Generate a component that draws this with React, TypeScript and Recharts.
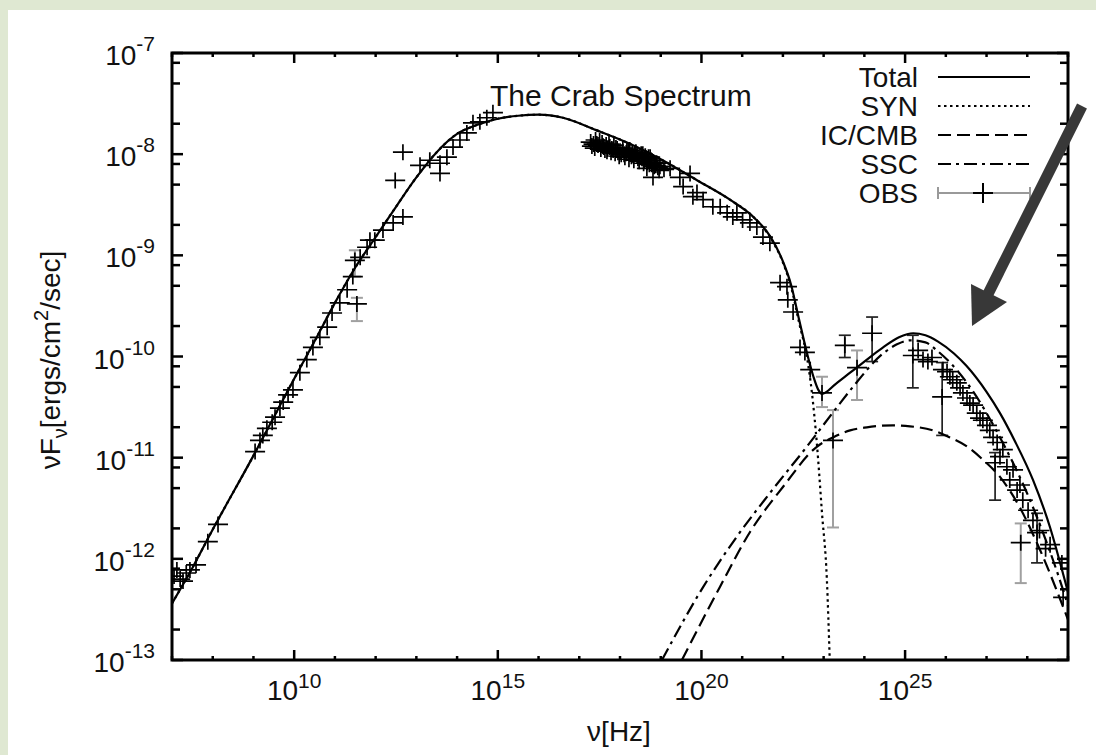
import React from 'react';
import { ComposedChart, Line, Scatter, XAxis, YAxis, ErrorBar, ReferenceArea } from 'recharts';

// all values are log10: x = log10(nu [Hz]), y = log10(nuF_nu [ergs/cm^2/sec])

// model curves
const totalNu = [7.0, 7.5, 8.0, 9.0, 9.5, 10.0, 10.5, 11.0, 11.5, 12.0, 12.5, 13.0, 13.5, 14.0, 14.5, 15.0, 15.5, 16.0, 16.6, 17.4, 18.2, 19.0, 19.9, 20.7, 21.3, 21.7, 22.0, 22.2, 22.4, 22.6, 22.75, 22.87, 22.96, 23.3, 23.65, 24.0, 24.46, 24.85, 25.2, 25.5, 25.8, 26.2, 26.5, 27.0, 27.33, 27.7, 28.14, 28.56, 28.92, 29.0];
const totalFlux = [-12.44, -12.09, -11.71, -10.98, -10.6, -10.22, -9.85, -9.47, -9.12, -8.82, -8.52, -8.23, -7.98, -7.8, -7.71, -7.65, -7.62, -7.61, -7.64, -7.76, -7.89, -8.05, -8.26, -8.45, -8.63, -8.82, -9.06, -9.29, -9.64, -9.98, -10.2, -10.33, -10.37, -10.27, -10.16, -10.05, -9.91, -9.81, -9.77, -9.79, -9.85, -9.97, -10.09, -10.35, -10.56, -10.84, -11.22, -11.69, -12.21, -12.33];

const synNu = [7.0, 7.5, 8.0, 9.0, 9.5, 10.0, 10.5, 11.0, 11.5, 12.0, 12.5, 13.0, 13.5, 14.0, 14.5, 15.0, 15.5, 16.0, 16.6, 17.4, 18.2, 19.0, 19.9, 20.7, 21.3, 21.7, 22.0, 22.2, 22.4, 22.6, 22.71, 22.84, 22.96, 23.08, 23.15];
const synFlux = [-12.44, -12.09, -11.71, -10.98, -10.6, -10.22, -9.85, -9.47, -9.12, -8.82, -8.52, -8.23, -7.98, -7.8, -7.71, -7.65, -7.62, -7.61, -7.64, -7.76, -7.89, -8.05, -8.26, -8.45, -8.63, -8.83, -9.07, -9.31, -9.67, -10.03, -10.35, -10.89, -11.55, -12.21, -13.0];

const icNu = [19.52, 20.45, 21.2, 22.0, 22.84, 23.23, 23.65, 24.06, 24.7, 25.12, 25.68, 26.1, 26.52, 26.91, 27.33, 27.8, 28.3, 29.0];
const icFlux = [-13.0, -12.28, -11.73, -11.29, -10.89, -10.8, -10.73, -10.7, -10.68, -10.69, -10.73, -10.8, -10.89, -11.02, -11.19, -11.48, -11.9, -12.6];

const sscNu = [19.03, 20.04, 20.87, 21.68, 22.59, 23.33, 23.72, 24.46, 24.8, 25.12, 25.5, 25.78, 26.52, 27.33, 28.14, 28.8, 29.0];
const sscFlux = [-13.0, -12.28, -11.78, -11.35, -10.89, -10.5, -10.3, -9.97, -9.88, -9.84, -9.86, -9.94, -10.26, -10.8, -11.49, -12.21, -12.46];

// observations
const radioNu = [7.05, 7.12, 7.2, 7.27, 7.35, 7.44, 7.59, 7.88, 8.13, 9.04, 9.16, 9.23, 9.33, 9.46, 9.53, 9.65, 9.73, 9.85, 9.97, 10.14, 10.31, 10.46, 10.63, 10.81, 10.93, 11.12, 11.3, 11.44, 11.62, 11.79, 11.86, 11.98, 12.18, 12.43, 12.67, 12.48, 12.67];
const radioFlux = [-12.17, -12.11, -12.2, -12.22, -12.14, -12.11, -12.06, -11.83, -11.66, -10.94, -10.83, -10.78, -10.71, -10.65, -10.6, -10.51, -10.45, -10.38, -10.33, -10.16, -10.03, -9.91, -9.81, -9.71, -9.57, -9.47, -9.34, -9.21, -9.02, -8.92, -8.85, -8.85, -8.75, -8.68, -8.62, -8.26, -7.98];

const irNu = [13.09, 13.33, 13.58, 13.58, 13.75, 13.9, 14.07, 14.24, 14.39, 14.56, 14.73, 14.88];
const irFlux = [-8.11, -8.06, -8.09, -8.19, -8.03, -7.93, -7.86, -7.79, -7.69, -7.68, -7.64, -7.59];

const optNu = [17.28, 17.35, 17.4, 17.46, 17.5, 17.56, 17.6, 17.66, 17.7, 17.75, 17.8, 17.85, 17.9, 17.95, 18.0, 18.07, 18.1, 18.15, 18.2, 18.24, 18.28, 18.32, 18.36, 18.39, 18.44, 18.49, 18.52, 18.56, 18.6, 18.64, 18.7, 18.74, 18.78, 18.81, 18.88, 18.93, 18.98, 19.08];
const optFlux = [-7.88, -7.9, -7.86, -7.91, -7.87, -7.89, -7.93, -7.91, -7.95, -7.93, -7.95, -7.91, -7.94, -7.98, -7.97, -7.94, -8.0, -7.99, -7.97, -7.96, -8.02, -8.01, -7.99, -7.98, -8.04, -8.02, -8.0, -8.0, -8.06, -8.04, -8.03, -8.03, -8.1, -8.08, -8.11, -8.13, -8.12, -8.15];
// second, denser layer of the optical band
const opt2Nu = [17.31, 17.38, 17.43, 17.53, 17.58, 17.63, 17.68, 17.73, 17.78, 17.83, 17.88, 17.93, 17.98, 18.03, 18.12, 18.17, 18.22, 18.3, 18.34, 18.42, 18.47, 18.54, 18.58, 18.62, 18.67, 18.72, 18.76, 18.84, 18.9, 18.96];
const opt2Flux = [-7.92, -7.94, -7.9, -7.95, -7.92, -7.96, -7.97, -7.9, -7.98, -7.96, -7.99, -7.95, -8.02, -8.0, -8.03, -7.96, -8.05, -7.99, -8.06, -8.01, -8.07, -8.04, -8.09, -8.02, -8.08, -8.1, -8.06, -8.12, -8.09, -8.16];

const xrayNu = [18.66, 18.81, 19.23, 19.47, 19.72, 19.55, 19.89, 19.79, 20.04, 20.28, 20.46, 20.63, 20.77, 20.87, 21.01, 21.19, 21.36, 21.51, 21.68, 21.93, 22.1, 22.12, 22.25, 22.42, 22.54, 22.67];
const xrayFlux = [-8.14, -8.23, -8.14, -8.23, -8.19, -8.32, -8.38, -8.42, -8.45, -8.52, -8.52, -8.58, -8.62, -8.58, -8.65, -8.68, -8.72, -8.82, -8.88, -9.27, -9.31, -9.44, -9.56, -9.91, -9.96, -10.13];

const gammaNu = [25.32, 25.44, 25.56, 25.66, 25.93, 26.03, 26.1, 26.17, 26.27, 26.35, 26.42, 26.52, 26.59, 26.67, 26.76, 26.84, 26.91, 27.01, 27.08, 27.16, 27.26, 27.33, 27.4, 27.5, 27.57, 27.65, 27.75, 27.82, 27.89, 28.02, 28.14, 28.3, 28.45, 28.56, 28.85, 28.88];
const gammaFlux = [-9.94, -10.03, -10.05, -10.01, -10.13, -10.15, -10.2, -10.23, -10.26, -10.31, -10.36, -10.41, -10.46, -10.48, -10.56, -10.61, -10.63, -10.68, -10.73, -10.8, -10.85, -10.99, -10.92, -11.09, -11.22, -11.12, -11.32, -11.27, -11.42, -11.52, -11.62, -11.72, -11.9, -11.86, -12.04, -12.38];

// observations with error bars (bar ends as log10 values)
const grayErrNu = [11.49, 11.54, 22.96, 23.23, 23.82, 27.84];
const grayErrFlux = [-9.05, -9.48, -10.36, -10.83, -10.11, -11.84];
const grayErrLo = [-9.21, -9.65, -10.5, -11.69, -10.43, -12.24];
const grayErrHi = [-8.95, -9.42, -10.2, -10.53, -9.94, -11.65];

const blackErrNu = [23.52, 24.19, 25.19, 25.91, 27.21, 28.24];
const blackErrFlux = [-9.89, -9.77, -9.99, -10.4, -11.05, -11.74];
const blackErrLo = [-10.01, -10.05, -10.31, -10.78, -11.42, -12.04];
const blackErrHi = [-9.79, -9.61, -9.79, -10.06, -10.95, -11.55];

// axes
const xTicks = [7, 8, 9, 10, 11, 12, 13, 14, 15, 16, 17, 18, 19, 20, 21, 22, 23, 24, 25, 26, 27, 28, 29];
const xLabelTicks = [10, 15, 20, 25];
const yDecades = [-13, -12, -11, -10, -9, -8, -7];
const yMinorSteps = [2, 5, 8];

const yTicks: number[] = [];
yDecades.forEach((d) => {
  yTicks.push(d);
  if (d < -7) yMinorSteps.forEach((m) => yTicks.push(d + Math.log10(m)));
});

const toPoints = (xs: number[], ys: number[]) => xs.map((x, i) => ({ x, y: ys[i] }));
const toErrPoints = (xs: number[], ys: number[], lo: number[], hi: number[]) =>
  xs.map((x, i) => ({ x, y: ys[i], err: [ys[i] - lo[i], hi[i] - ys[i]] }));

const totalData = toPoints(totalNu, totalFlux);
const synData = toPoints(synNu, synFlux);
const icData = toPoints(icNu, icFlux);
const sscData = toPoints(sscNu, sscFlux);
const obsData = [
  ...toPoints(radioNu, radioFlux),
  ...toPoints(irNu, irFlux),
  ...toPoints(optNu, optFlux),
  ...toPoints(opt2Nu, opt2Flux),
  ...toPoints(xrayNu, xrayFlux),
  ...toPoints(gammaNu, gammaFlux),
];
const grayErrData = toErrPoints(grayErrNu, grayErrFlux, grayErrLo, grayErrHi);
const blackErrData = toErrPoints(blackErrNu, blackErrFlux, blackErrLo, blackErrHi);

const PLOT = { left: 172, top: 53, right: 1068, bottom: 660 };
const FONT = '"Liberation Sans", Arial, Helvetica, sans-serif';
const INK = '#111';

const SYN_DASH = '2.5 3.5';
const IC_DASH = '13 6';
const SSC_DASH = '13 5 3 5';

function XTick(props: any) {
  const { x, payload } = props;
  const v = payload.value;
  const major = xLabelTicks.includes(v);
  const len = major ? 10 : 4;
  return (
    <g>
      <line x1={x} y1={PLOT.bottom} x2={x} y2={PLOT.bottom - len} stroke="#000" strokeWidth={2.5} />
      <line x1={x} y1={PLOT.top} x2={x} y2={PLOT.top + len} stroke="#000" strokeWidth={2.5} />
      {major && (
        <text x={x} y={700} textAnchor="middle" fontFamily={FONT} fontSize={28} fill={INK}>
          10<tspan dy={-12} fontSize={21}>{v}</tspan>
        </text>
      )}
    </g>
  );
}

function YTick(props: any) {
  const { y, payload } = props;
  const v = payload.value;
  const major = Math.abs(v - Math.round(v)) < 1e-6;
  const len = major ? 11 : 8;
  return (
    <g>
      <line x1={PLOT.left} y1={y} x2={PLOT.left + len} y2={y} stroke="#000" strokeWidth={2.5} />
      <line x1={PLOT.right} y1={y} x2={PLOT.right - len} y2={y} stroke="#000" strokeWidth={2.5} />
      {major && (
        <text x={155} y={y + 12} textAnchor="end" fontFamily={FONT} fontSize={28} fill={INK}>
          10<tspan dy={-14} fontSize={21}>{Math.round(v)}</tspan>
        </text>
      )}
    </g>
  );
}

const Cross = (props: any) => {
  const { cx, cy } = props;
  if (cx == null || cy == null) return <g />;
  return (
    <path
      d={`M${cx - 10},${cy}H${cx + 10}M${cx},${cy - 8}V${cy + 8}`}
      stroke="#000"
      strokeWidth={1.7}
      fill="none"
    />
  );
};

const legendRows = [
  { label: 'Total', dash: undefined as string | undefined },
  { label: 'SYN', dash: SYN_DASH },
  { label: 'IC/CMB', dash: IC_DASH },
  { label: 'SSC', dash: SSC_DASH },
];

function Overlay() {
  const rowY = (i: number) => 87 + i * 29;
  return (
    <svg
      width={1096}
      height={755}
      style={{ position: 'absolute', left: 0, top: 0, pointerEvents: 'none' }}
    >
      <text x={490} y={106} fontFamily={FONT} fontSize={30} fill={INK}>
        The Crab Spectrum
      </text>

      {legendRows.map((r, i) => (
        <g key={r.label}>
          <text x={918} y={rowY(i)} textAnchor="end" fontFamily={FONT} fontSize={28} fill={INK}>
            {r.label}
          </text>
          <line x1={938} x2={1030} y1={rowY(i) - 10} y2={rowY(i) - 10} stroke="#000" strokeWidth={2.2} strokeDasharray={r.dash} />
        </g>
      ))}
      <text x={918} y={rowY(4)} textAnchor="end" fontFamily={FONT} fontSize={28} fill={INK}>
        OBS
      </text>
      <g stroke="#999" strokeWidth={2}>
        <line x1={938} x2={1030} y1={rowY(4) - 10} y2={rowY(4) - 10} />
        <line x1={938} x2={938} y1={rowY(4) - 16} y2={rowY(4) - 4} />
        <line x1={1030} x2={1030} y1={rowY(4) - 16} y2={rowY(4) - 4} />
      </g>
      <path d={`M973,${rowY(4) - 10}H993M983,${rowY(4) - 20}V${rowY(4)}`} stroke="#000" strokeWidth={2} />

      <text x={619} y={741} textAnchor="middle" fontFamily={FONT} fontSize={28} fill={INK}>
        ν[Hz]
      </text>
      <text transform="translate(60,360) rotate(-90)" textAnchor="middle" fontFamily={FONT} fontSize={28} fill={INK}>
        νF<tspan dy={7} fontSize={20}>ν</tspan>
        <tspan dy={-7}>[ergs/cm</tspan>
        <tspan dy={-12} fontSize={20}>2</tspan>
        <tspan dy={12}>/sec]</tspan>
      </text>

      <line x1={1082} y1={106} x2={988} y2={294} stroke="#383838" strokeWidth={11} />
      <polygon points="972,326 971,284 1007,302" fill="#383838" />
    </svg>
  );
}

export default function App() {
  return (
    <div style={{ position: 'fixed', left: 0, top: 0, width: 1096, height: 755, background: '#dfe8d2', overflow: 'hidden' }}>
      <div style={{ position: 'absolute', left: 8, top: 10, width: 1088, height: 745, background: '#fff' }} />
      <div style={{ position: 'absolute', left: 0, top: 0 }}>
        <ComposedChart
          width={1096}
          height={755}
          margin={{ top: PLOT.top, right: 1096 - PLOT.right, bottom: 0, left: 0 }}
        >
          <XAxis
            type="number"
            dataKey="x"
            domain={[7, 29]}
            ticks={xTicks}
            interval={0}
            allowDataOverflow
            height={755 - PLOT.bottom}
            axisLine={false}
            tickLine={false}
            tick={(p: any) => <XTick {...p} />}
          />
          <YAxis
            type="number"
            dataKey="y"
            domain={[-13, -7]}
            ticks={yTicks}
            interval={0}
            allowDataOverflow
            width={PLOT.left}
            axisLine={false}
            tickLine={false}
            tick={(p: any) => <YTick {...p} />}
          />
          <ReferenceArea x1={7} x2={29} y1={-13} y2={-7} fill="none" stroke="#000" strokeWidth={3} ifOverflow="visible" />

          <Scatter data={grayErrData} dataKey="y" shape={Cross} isAnimationActive={false}>
            <ErrorBar dataKey="err" direction="y" width={6} stroke="#a0a0a0" strokeWidth={2} />
          </Scatter>
          <Scatter data={blackErrData} dataKey="y" shape={Cross} isAnimationActive={false}>
            <ErrorBar dataKey="err" direction="y" width={6} stroke="#222" strokeWidth={1.7} />
          </Scatter>
          <Scatter data={obsData} dataKey="y" shape={Cross} isAnimationActive={false} />

          <Line data={icData} dataKey="y" type="monotone" stroke="#000" strokeWidth={2.2} strokeDasharray={IC_DASH} dot={false} isAnimationActive={false} />
          <Line data={sscData} dataKey="y" type="monotone" stroke="#000" strokeWidth={2.2} strokeDasharray={SSC_DASH} dot={false} isAnimationActive={false} />
          <Line data={synData} dataKey="y" type="monotone" stroke="#000" strokeWidth={2.2} strokeDasharray={SYN_DASH} dot={false} isAnimationActive={false} />
          <Line data={totalData} dataKey="y" type="monotone" stroke="#000" strokeWidth={2.2} dot={false} isAnimationActive={false} />
        </ComposedChart>
      </div>
      <Overlay />
    </div>
  );
}
